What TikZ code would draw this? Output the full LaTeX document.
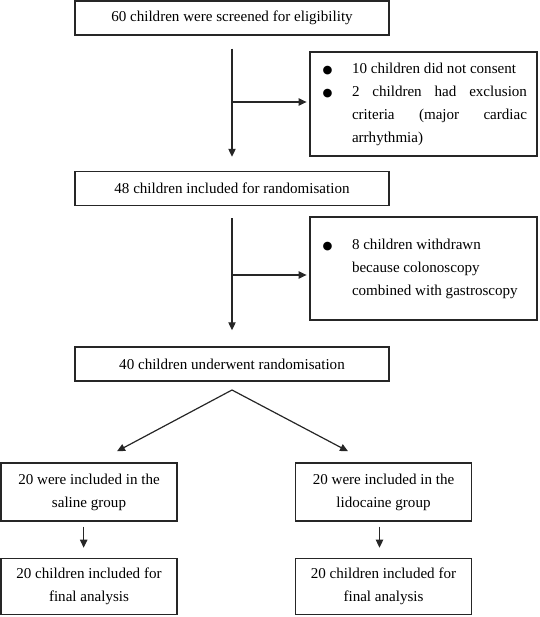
\documentclass[tikz,border=0pt]{standalone}
\usepackage{fontspec}
\setmainfont{Liberation Serif}
\newfontfamily\dotfont{DejaVu Sans}
\usetikzlibrary{positioning,arrows.meta}
\newcommand\bulletitem[1]{\hbadness=10000\relax\hyphenpenalty=10000\relax
  \noindent\hangindent=24pt\relax\hangafter=1\relax
  \makebox[24pt][l]{\hspace{2pt}{\dotfont\fontsize{8.5}{8.5}\selectfont ●}}#1\par}

\begin{document}
\begin{tikzpicture}[x=0.75pt, y=-0.75pt, >={Triangle[length=6pt,width=5.5pt]},
  font=\fontsize{11.3}{17.25}\selectfont,
  box/.style={draw=black!85, line width=1.1pt, align=center, inner sep=0pt},
  mainbox/.style={box, minimum width=235.5pt, minimum height=25.5pt},
  groupbox/.style={box, minimum width=132pt, minimum height=43.5pt},
  sidebox/.style={box, text width=155.25pt, inner xsep=7.5pt, align=justify},
  link/.style={->, draw=black!85, line width=0.9pt}]
  \useasboundingbox (0,0) rectangle (539,617);
  \node[mainbox] (screen) at (232,18) {60 children were screened for eligibility};
  \node[mainbox] (incl) at (232,188.5) {48 children included for randomisation};
  \node[mainbox] (rand) at (232,364) {40 children underwent randomisation};
  \node[sidebox, minimum height=78pt] (excl) at (423.5,104)
    {\bulletitem{10 children did not consent}%
     \bulletitem{2 children had exclusion\linebreak criteria (major cardiac\linebreak arrhythmia)}};
  \node[sidebox, minimum height=77.25pt] (wdrawn) at (423.5,268.5)
    {\bulletitem{8 children withdrawn\newline because colonoscopy\newline
     combined with gastroscopy}\vspace{16.5pt}};
  \node[groupbox] (saline) at (89,492) {20 were included in the\\saline group};
  \node[groupbox, minimum height=42pt, below=27pt of saline] (salfin) {20 children included for\\final analysis};
  \node[groupbox] (lido) at (383.5,492) {20 were included in the\\lidocaine group};
  \node[groupbox, minimum height=42pt, below=27pt of lido] (lidfin) {20 children included for\\final analysis};

  \coordinate (t1) at (232,102);
  \coordinate (t2) at (232,275);
  \coordinate (split) at (232,390);
  \draw[link, shorten <=9.75pt, shorten >=10.5pt] (screen) -- (incl);
  \draw[link, shorten >=2pt] (t1) -- (t1 -| excl.west);
  \draw[link, shorten <=9pt, shorten >=12pt] (incl) -- (rand);
  \draw[link, shorten >=2pt] (t2) -- (t2 -| wdrawn.west);
  \draw[link] (split) -- ([xshift=21pt, yshift=8.25pt]saline.north);
  \draw[link] (split) -- ([xshift=-26.6pt, yshift=8.25pt]lido.north);
  \draw[link, shorten <=3.75pt, shorten >=7.5pt] ([xshift=-4pt]saline.south) -- ([xshift=-4pt]salfin.north);
  \draw[link, shorten <=3.75pt, shorten >=7.5pt] ([xshift=-3pt]lido.south) -- ([xshift=-3pt]lidfin.north);
\end{tikzpicture}
\end{document}
